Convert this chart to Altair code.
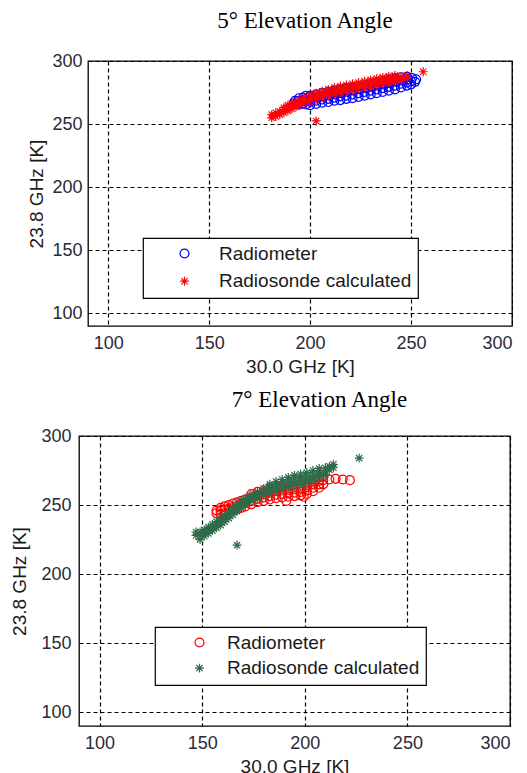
import altair as alt
import pandas as pd

SERIES = ["Radiometer", "Radiosonde calculated"]
TICKS = [100, 150, 200, 250, 300]
DOMAIN = [90, 300]

# 5 deg elevation: radiometer (blue circles), (30.0 GHz, 23.8 GHz) in K
top_radiometer = [
    (192, 266), (192.5, 268.5), (194, 265.5), (194, 268), (194.5, 270.5), (196, 266), (196, 268.5),
    (196.5, 271), (198, 265.5), (198, 268), (198.5, 270.5), (198, 272.5), (200, 265), (200, 267.5),
    (200.5, 270), (200, 272.5), (203, 266), (203, 268.5), (203.5, 271), (203, 273.5), (206, 267),
    (206, 269.5), (206.5, 272), (206, 274.5), (209, 267.5), (209, 270), (209.5, 272.5), (209, 275.5),
    (212, 268.5), (212, 271), (212.5, 273.5), (212, 276.5), (215, 269), (215, 272), (215.5, 274.5),
    (215, 277.5), (218, 270), (218, 272.5), (218.5, 275.5), (218, 278.5), (221, 270.5), (221, 273.5),
    (221.5, 276.5), (221, 279), (224, 271.5), (224, 274.5), (224.5, 277.5), (224, 280), (227, 272.5),
    (227, 275.5), (227.5, 278.5), (227, 281), (230, 273.5), (230, 276.5), (230.5, 279.5), (230, 282),
    (233, 274.5), (233, 277.5), (233.5, 280.5), (233, 283), (236, 275.5), (236, 278.5), (236.5, 281.5),
    (236, 284), (239, 276.5), (239, 279.5), (239.5, 282.5), (239, 285), (242, 277.5), (242, 280.5),
    (242.5, 283.5), (242, 286), (245, 279), (245, 282), (245.5, 284.5), (245, 287), (248, 280.5),
    (248, 283), (248.5, 285.5), (248, 287.5), (250, 281.5), (250, 284), (250.5, 286.5), (252, 283.5),
    (252.5, 285.5),
]
# 5 deg elevation: radiosonde calculated (red stars)
top_radiosonde = [
    (181, 255), (181, 257.5), (183, 256), (183, 259), (185, 257.5), (185, 260), (187, 259), (187, 261.5),
    (187, 263), (189, 260.5), (189, 263), (189, 265), (191, 262), (191, 264.5), (191, 266.5), (193, 263.5),
    (193, 266), (193, 268), (195, 265), (195, 267.5), (195, 269.5), (197, 266.5), (197, 269), (197, 271),
    (200, 268), (200, 270.5), (200, 273), (203, 269.5), (203, 272), (203, 274.5), (206, 271), (206, 273.5),
    (206, 276), (209, 272.5), (209, 275), (209, 277.5), (212, 274), (212, 276.5), (212, 279), (215, 275),
    (215, 277.5), (215, 280), (218, 276), (218, 278.5), (218, 281), (221, 277), (221, 279.5), (221, 282),
    (224, 278), (224, 280.5), (224, 283), (227, 279), (227, 281.5), (227, 284), (230, 280), (230, 282.5),
    (230, 285), (233, 281), (233, 283.5), (233, 286), (236, 282), (236, 284.5), (236, 287), (239, 283),
    (239, 285.5), (239, 288), (242, 284), (242, 286.5), (242, 288.5), (245, 285), (245, 287.5),
    (248, 286.5), (248, 288.5), (203, 252.5), (256, 291.5),
]
# 7 deg elevation: radiometer (red circles)
bottom_radiometer = [
    (157, 244), (157, 246), (159, 243.5), (159, 246), (159, 248), (161, 244), (161, 246.5), (161, 249),
    (163, 245), (163, 247.5), (163, 250), (165, 246), (165, 248.5), (165, 251), (167, 247), (167, 249.5),
    (167, 252), (169, 248), (169, 250.5), (169, 253), (171, 249), (171, 251.5), (171, 254), (174, 250.5),
    (174, 253), (174, 255.5), (174, 258), (177, 252), (177, 254.5), (177, 257), (177, 259.5), (180, 253),
    (180, 255.5), (180, 258), (180, 260.5), (183, 254), (183, 256.5), (183, 259), (183, 261.5), (186, 255),
    (186, 257.5), (186, 260), (186, 262.5), (189, 255.5), (189, 258), (189, 260.5), (189, 263), (192, 256),
    (192, 258.5), (192, 261), (192, 263.5), (195, 256.5), (195, 259), (195, 261.5), (195, 264), (198, 257),
    (198, 259.5), (198, 262), (198, 264.5), (201, 258), (201, 260.5), (201, 263), (201, 265.5), (204, 260),
    (204, 262.5), (204, 265), (204, 267.5), (207, 262.5), (207, 265), (207, 267.5), (207, 270), (209, 265),
    (209, 268), (209, 270.5), (212, 268.5), (215, 269), (218.5, 268.5), (222, 268), (191, 253), (199.5, 256),
]
# 7 deg elevation: radiosonde calculated (green stars)
bottom_radiosonde = [
    (147, 228), (147, 230.5), (149, 225), (149, 228), (149, 230.5), (151, 227.5), (151, 230), (151, 232),
    (153, 229.5), (153, 232), (153, 234), (155, 231.5), (155, 234), (155, 236), (157, 233.5), (157, 236),
    (157, 238), (159, 235.5), (159, 238), (159, 240), (161, 238), (161, 240.5), (161, 242.5), (163, 240.5),
    (163, 243), (163, 245), (165, 243), (165, 245.5), (165, 247.5), (167, 245.5), (167, 248), (167, 250),
    (169, 248), (169, 250.5), (169, 252.5), (171, 250), (171, 252.5), (171, 254.5), (173, 252), (173, 254.5),
    (173, 256.5), (175, 253.5), (175, 256), (175, 258), (177, 255), (177, 257.5), (177, 259.5), (180, 257),
    (180, 259.5), (180, 262), (183, 258.5), (183, 261), (183, 263.5), (183, 265), (186, 260), (186, 262.5),
    (186, 265), (186, 267), (189, 261.5), (189, 264), (189, 266.5), (189, 268.5), (192, 263), (192, 265.5),
    (192, 268), (192, 270), (195, 264), (195, 266.5), (195, 269), (195, 271.5), (198, 265), (198, 267.5),
    (198, 270), (198, 272.5), (201, 266), (201, 268.5), (201, 271), (201, 273.5), (204, 267.5), (204, 270),
    (204, 272.5), (204, 275), (207, 269.5), (207, 272), (207, 274.5), (207, 276.5), (210, 272), (210, 274.5),
    (210, 277), (212, 275.5), (212, 278), (214, 277), (214, 279.5), (226.5, 284), (167, 221),
]

TOP_COLORS = ["#0000ff", "#ff0000"]
BOTTOM_COLORS = ["#ff0000", "#2e6b4b"]
STAR = "M-1,0L1,0M0,-1L0,1M-0.7,-0.7L0.7,0.7M-0.7,0.7L0.7,-0.7"


def table(a, b):
    rows = [{"x": x, "y": y, "series": SERIES[0]} for x, y in a]
    rows += [{"x": x, "y": y, "series": SERIES[1]} for x, y in b]
    return pd.DataFrame(rows)


def panel(df, title, colors, width, height, title_dx, title_offset, y_title_pad, y_label_pad,
          lx, ly, sym_off, lab_off, row_pad):
    common = dict(values=TICKS, grid=True, gridColor="black", gridDash=[4, 3], gridWidth=1.2,
                  gridOpacity=1, ticks=False, domain=False, labelFontSize=18, labelColor="#2a2a35",
                  labelFont="Liberation Sans", titleFont="Liberation Sans", titleFontSize=19,
                  titleFontWeight="normal", titleColor="#1a1a1a")
    x_axis = alt.Axis(title="30.0 GHz [K]", labelPadding=8, titlePadding=5, **common)
    y_axis = alt.Axis(title="23.8 GHz [K]", labelPadding=y_label_pad, titlePadding=y_title_pad, **common)
    legend = alt.Legend(title=None, orient="none", legendX=lx, legendY=ly, padding=6,
                        strokeColor="black", fillColor="white", cornerRadius=0, labelFontSize=19,
                        labelFont="Liberation Sans", labelColor="#1a1a1a", labelLimit=400,
                        symbolSize=80, symbolStrokeWidth=1.2, symbolOffset=sym_off,
                        labelOffset=lab_off, rowPadding=row_pad)
    return alt.Chart(
        df,
        title=alt.Title(title, font="Liberation Serif", fontSize=23, fontWeight="normal",
                        color="black", frame="group", anchor="middle", dx=title_dx,
                        offset=title_offset, baseline="alphabetic"),
    ).mark_point(filled=False, size=80, strokeWidth=1.2, opacity=1).encode(
        x=alt.X("x:Q", scale=alt.Scale(domain=DOMAIN, nice=False, zero=False), axis=x_axis),
        y=alt.Y("y:Q", scale=alt.Scale(domain=DOMAIN, nice=False, zero=False), axis=y_axis),
        color=alt.Color("series:N", scale=alt.Scale(domain=SERIES, range=colors), legend=legend),
        shape=alt.Shape("series:N", scale=alt.Scale(domain=SERIES, range=["circle", STAR]), legend=legend),
    ).properties(width=width, height=height)


def spacer(w):
    # empty, invisible cell used only to shift a panel horizontally
    return alt.Chart(pd.DataFrame({"v": [0]})).mark_point(opacity=0, size=0, strokeWidth=0).encode(
        x=alt.X("v:Q", axis=None), y=alt.Y("v:Q", axis=None)
    ).properties(width=w, height=1, view=alt.ViewBackground(strokeOpacity=0, strokeWidth=0))


top = panel(table(top_radiometer, top_radiosonde), "5° Elevation Angle", TOP_COLORS,
            424, 265, 5, 1.5, 5, 6, 55, 177, 26, 25, 7.7)
bottom = panel(table(bottom_radiometer, bottom_radiosonde), "7° Elevation Angle", BOTTOM_COLORS,
               431, 290, 25, -2.5, 11.5, 8, 76, 191, 29, 18, 5.6)

indep = dict(color="independent", shape="independent")
chart = alt.vconcat(
    alt.hconcat(spacer(19), top, spacing=0).resolve_scale(**indep),
    alt.hconcat(spacer(1), bottom, spacing=0).resolve_scale(**indep),
    spacing=10,
).properties(padding=0).resolve_scale(**indep).configure_view(
    stroke="black", strokeWidth=1.3
).configure_legend(strokeWidth=1.2)

chart.save("out.html", embed_options={"renderer": "svg", "actions": False})
